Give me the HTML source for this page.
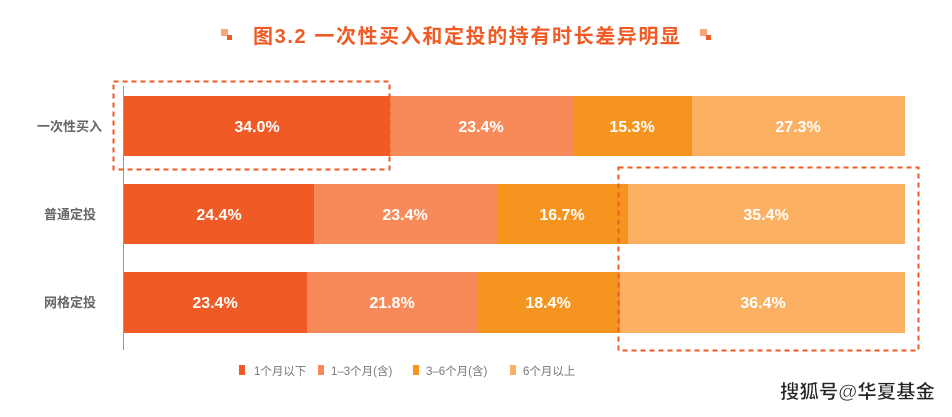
<!DOCTYPE html>
<html><head><meta charset="utf-8"><style>
body{margin:0;background:#fff;width:952px;height:412px;overflow:hidden;font-family:"Liberation Sans","Noto Sans CJK SC",sans-serif}
</style></head><body>
<svg width="952" height="412" xmlns="http://www.w3.org/2000/svg" style="font-family:'Liberation Sans','Noto Sans CJK SC',sans-serif">
<rect x="221" y="29" width="7" height="7" fill="#f9a47c"/><rect x="227" y="35" width="5" height="5" fill="#f05a24"/>
<rect x="700" y="29" width="7" height="7" fill="#f9a47c"/><rect x="706" y="35" width="5" height="5" fill="#f05a24"/>
<text x="253" y="43" font-size="20" font-weight="bold" fill="#f05a24" textLength="427" lengthAdjust="spacing">图3.2  一次性买入和定投的持有时长差异明显</text>
<line x1="123.5" y1="86" x2="123.5" y2="350" stroke="#999" stroke-width="1"/>
<g font-size="16" font-weight="bold" fill="#fff" text-anchor="middle">
<rect x="124" y="96" width="266" height="60" fill="#f05a24"/><rect x="390" y="96" width="183" height="60" fill="#f78a58"/><rect x="573" y="96" width="119" height="60" fill="#f5951f"/><rect x="692" y="96" width="213" height="60" fill="#fbb062"/>
<text x="257" y="132">34.0%</text><text x="481" y="132">23.4%</text><text x="632" y="132">15.3%</text><text x="798" y="132">27.3%</text>
<rect x="124" y="184" width="190" height="60" fill="#f05a24"/><rect x="314" y="184" width="183" height="60" fill="#f78a58"/><rect x="497" y="184" width="131" height="60" fill="#f5951f"/><rect x="628" y="184" width="277" height="60" fill="#fbb062"/>
<text x="219" y="220">24.4%</text><text x="405" y="220">23.4%</text><text x="562" y="220">16.7%</text><text x="766" y="220">35.4%</text>
<rect x="124" y="272" width="183" height="61" fill="#f05a24"/><rect x="307" y="272" width="170" height="61" fill="#f78a58"/><rect x="477" y="272" width="143" height="61" fill="#f5951f"/><rect x="620" y="272" width="285" height="61" fill="#fbb062"/>
<text x="215" y="308">23.4%</text><text x="392" y="308">21.8%</text><text x="548" y="308">18.4%</text><text x="763" y="308">36.4%</text>
</g>
<g font-size="13" fill="#666" font-weight="bold" text-anchor="end">
<text x="102" y="131">一次性买入</text><text x="96" y="219">普通定投</text><text x="96" y="307">网格定投</text>
</g>
<rect x="113.5" y="81.5" width="276" height="88" fill="none" stroke="#f05a24" stroke-width="2" stroke-dasharray="5,4"/>
<rect x="618.5" y="167.5" width="300" height="183" fill="none" stroke="#f05a24" stroke-width="2" stroke-dasharray="5,4"/>
<g font-size="11.5" fill="#777">
<rect x="239" y="365" width="6" height="10" fill="#f05a24"/><text x="254" y="375">1个月以下</text>
<rect x="318" y="365" width="6" height="10" fill="#f78a58"/><text x="331" y="375">1–3个月(含)</text>
<rect x="413" y="365" width="6" height="10" fill="#f5951f"/><text x="426" y="375">3–6个月(含)</text>
<rect x="510" y="365" width="6" height="10" fill="#fbb062"/><text x="523" y="375">6个月以上</text>
</g>
<text x="780" y="398" font-size="19" font-weight="bold" fill="#222" stroke="#fff" stroke-width="0.5" textLength="155" lengthAdjust="spacingAndGlyphs">搜狐号@华夏基金</text>
</svg>
</body></html>
